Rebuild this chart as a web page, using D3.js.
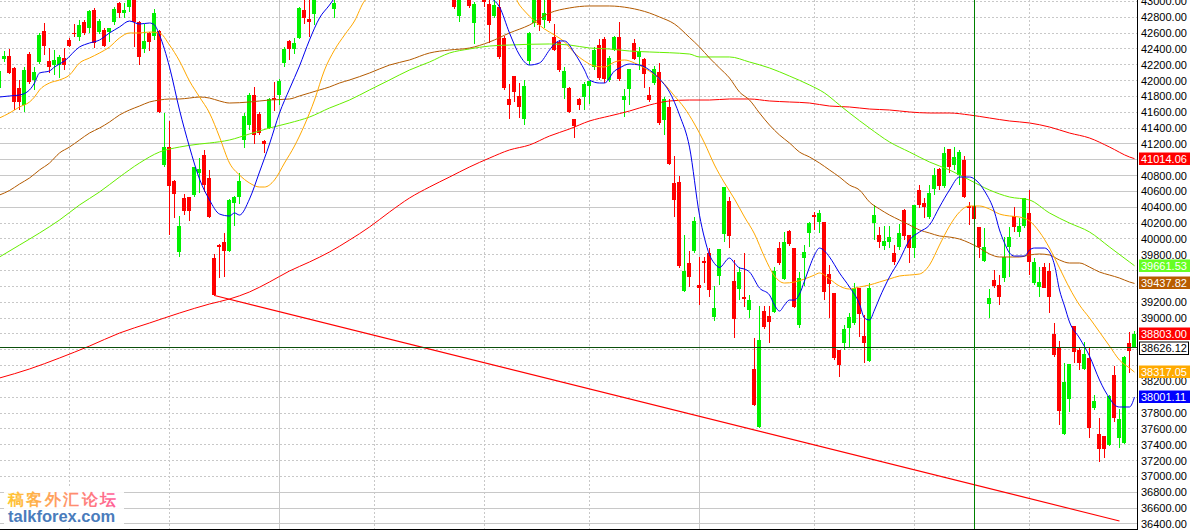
<!DOCTYPE html>
<html><head><meta charset="utf-8">
<script src="https://cdn.jsdelivr.net/npm/d3@7/dist/d3.min.js"></script>
<style>
html,body{margin:0;padding:0;background:#fff;overflow:hidden;}
svg{display:block;}
text{font-family:"Liberation Sans",Arial,sans-serif;}
</style></head>
<body>
<svg id="chart" width="1190" height="531"></svg>
<script>
// ---------------- DATA ----------------
const openP = [41907,42273,42311,42160,41907,41692,42336,42008,42235,42627,42248,42197,42197,42286,42513,42602,42551,42741,42665,42892,42614,42640,42614,42741,42981,42854,42930,43044,42741,42400,42602,42564,42627,40934,41161,40732,39835,40517,40530,40555,40833,41060,40770,39759,39923,39961,39848,40454,40530,41250,41439,41818,41578,41237,41401,41780,41818,42223,42501,42400,42539,42892,42779,42842,43044,43180,43290,42905,43060,43240,43390,43330,43520,43600,43520,43720,43650,43800,43700,43580,43680,43510,43420,43530,43360,43400,43260,43340,43180,43250,43110,43057,42817,43060,43057,42728,43050,43069,42968,42816,42930,42539,41768,42058,41806,41515,42248,42728,43031,42766,43044,42551,42488,41907,41907,41515,41768,41793,41932,42172,42450,42526,42008,42387,42551,41755,41894,42475,42299,42273,41818,41970,42109,41503,41667,40707,40719,39342,39696,39848,39418,39721,39822,39014,39532,40062,40479,39468,39367,39266,39102,38357,37624,39089,39026,39077,39885,39494,40100,39885,38913,39759,40075,40302,40214,40214,39557,39317,38597,38685,38875,38938,39380,38774,38458,40201,40050,39911,39961,39822,39898,40366,40050,39885,40618,40454,40277,40631,40884,40669,41136,40934,40808,40997,40416,40416,40151,39721,39178,39481,39418,39506,39898,40290,40088,40163,40328,39443,39393,39645,39595,38799,38622,37535,37978,38900,38597,38357,38496,37864,37535,37510,37396,38281,37485,37422,38685,38635];
const highP = [42147,42374,42400,42172,42008,42172,42362,42172,42602,42728,42412,42387,42324,42412,42539,42715,42766,42766,42892,42918,42779,42665,42670,42930,42990,42981,43056,43069,42750,42715,42610,42905,42640,41591,41490,40740,40290,40568,40535,40915,41022,41124,40871,39810,39930,40075,40500,40542,40833,41591,41844,41920,41604,41245,41780,41983,42021,42425,42510,42539,42930,43057,43044,43082,43215,43320,43350,43044,43280,43420,43480,43560,43640,43700,43760,43800,43840,43880,43760,43720,43740,43600,43560,43580,43440,43460,43380,43360,43300,43280,43200,43120,43094,43190,43082,42993,43150,43094,43031,43031,43044,42564,41957,42064,41970,42008,42610,43069,43057,43019,43069,42715,42513,42172,41915,41520,41775,41983,41995,42425,42526,42551,42311,42564,42741,41894,42147,42526,42425,42286,41920,42185,42223,41793,41768,41048,40795,40050,39848,40277,39772,39772,39885,39405,39873,40656,40530,39734,39645,39822,39292,38748,39153,39153,39153,39645,39961,40088,40113,39890,39582,39923,40214,40340,40366,40220,39671,39320,38600,38913,39064,39443,39385,39039,39443,40429,40151,40163,40163,39923,40189,40378,40055,40429,40681,40517,40681,40896,40890,41161,41140,41161,41124,41048,40466,40429,40155,40138,39367,39607,39544,40024,40151,40403,40264,40517,40618,39759,39645,39696,39696,38938,38710,38433,38420,38905,38635,38698,38622,38028,37738,37515,38028,38395,37851,38521,38824,38837];
const lowP = [41894,42235,42084,41629,41629,41604,41957,41882,42210,42324,42096,42071,42033,42134,42425,42551,42501,42576,42602,42412,42589,42425,42488,42703,42791,42791,42867,42425,42197,42349,42374,42513,41591,40909,40050,40264,39772,40302,40227,40530,40580,40593,40264,39279,39506,39519,39835,40163,40441,41149,41376,41199,41313,41086,41389,41616,41692,42172,42261,42336,42530,42715,42551,42703,43035,43120,43080,42791,43040,43200,43300,43310,43440,43480,43500,43600,43620,43660,43540,43520,43480,43380,43390,43330,43260,43230,43200,43150,43120,43080,43060,42905,42741,43040,42918,42463,43035,42930,42475,42791,42273,41882,41515,41730,41528,41439,42197,42678,42627,42665,42728,42374,42109,41768,41591,41275,41629,41629,41705,42134,42008,41970,41983,42374,41995,41540,41692,42261,42134,41907,41730,41945,41439,41313,40934,40277,39633,39330,39393,39822,39165,39443,39266,38963,39418,39961,39885,38748,39228,39140,39001,37889,37611,38862,38685,39064,39671,39481,39911,39127,38875,39405,39898,40113,40075,39228,39001,38470,38256,38597,38622,38913,38761,38433,38445,39986,39885,39860,39885,39671,39860,39986,39696,39759,40391,40264,40252,40555,40618,40643,40833,40871,40681,40517,40176,40163,39759,39709,39001,39380,39165,39456,39519,40088,40024,40138,39544,39418,39266,39380,39064,38508,37649,37523,37813,38433,38344,38344,37485,37839,37182,37232,37384,37687,37359,37409,38306,38622];
const closeP = [42122,42311,42096,41730,41730,42134,41983,42109,42576,42437,42172,42261,42299,42197,42437,42589,42703,42602,42880,42475,42753,42437,42665,42905,42854,42892,43031,42741,42299,42501,42488,42854,41604,41161,40669,40568,40163,40353,40353,40909,40884,40681,40277,39292,39898,39848,40492,40530,40732,41553,41818,41313,41338,41199,41768,41755,41995,42400,42400,42475,42918,42791,42741,43044,43180,43290,43110,42981,43240,43390,43330,43520,43600,43520,43720,43650,43800,43700,43580,43680,43510,43420,43530,43360,43400,43260,43340,43180,43250,43110,43150,42930,43057,43150,42943,42968,43120,42993,42703,42955,42299,41907,41692,41856,41667,41932,42602,43044,42703,42854,42753,42387,42134,42122,41604,41427,41692,41957,41995,42387,42033,42021,42286,42551,42021,41806,42147,42273,42374,42084,41755,42147,41465,41768,40947,40492,39658,39595,39519,40227,39380,39696,39355,39127,39873,40656,40037,38988,39582,39241,39228,37902,38723,38887,38951,39595,39696,39961,39936,39140,39506,39835,40201,40277,40328,39330,39431,38496,38407,38862,39014,39380,39052,38685,39380,40302,39961,39974,40024,39709,40075,40037,39885,40429,40429,40403,40580,40808,40669,41086,40909,41035,41098,40530,40391,40252,39898,39898,39254,39405,39266,39772,40024,40151,40163,40517,39709,39709,39456,39380,39266,38534,37826,38192,38420,38571,38433,38546,37611,37952,37346,37346,38016,37738,37725,38508,38584,38803];

// moving-average lines, read at sampled bars
const blueIdx = [0,2,4,6,7,8,10,11,13,16,18,20,22,24,26,28,30,31,32,34,36,38,40,42,44,46,47,48,50,52,54,56,58,60,62,64,66,67,70,75,80,85,90,94,98,100,102,104,106,108,110,111,112,113,115,117,118,120,121,123,124,126,128,130,132,134,136,138,140,141,142,143,144,146,147,148,149,150,152,154,155,156,157,158,159,160,161,162,163,164,165,166,168,170,172,173,174,175,176,178,180,182,184,186,188,190,192,194,195,197,199,200,201,202,203,205,206,207,209,210,211,212,213,214,216,218,220,221,222,223,224,226,227];
const blueVal = [41793,41806,41818,41882,41970,42096,42122,42172,42248,42425,42475,42513,42602,42678,42753,42715,42728,42703,42576,42172,41629,41161,40757,40492,40315,40290,40328,40302,40504,40846,41199,41591,41894,42185,42513,42791,42955,43044,43300,43560,43620,43450,43250,43100,43044,42930,42602,42324,42197,42223,42387,42463,42501,42501,42349,42134,42008,41970,41970,42122,42160,42210,42197,42134,42021,41856,41566,41160,40300,40010,39800,39690,39640,39759,39696,39633,39620,39582,39380,39292,39165,39089,39165,39228,39228,39304,39468,39645,39797,39885,39848,39772,39570,39393,39178,39001,38976,39102,39254,39519,39734,39986,40088,40176,40403,40618,40782,40782,40757,40606,40340,40113,39949,39822,39784,39784,39860,39885,39885,39835,39671,39355,39153,38951,38748,38521,38218,38091,37990,37902,37877,37877,38001.11];
const yellowIdx = [0,2,4,6,7,8,10,12,14,16,18,20,22,24,26,28,30,32,34,36,38,40,42,44,46,48,50,52,53,55,57,59,61,63,65,67,69,71,73,74,80,88,96,103,104,105,107,109,111,113,115,117,119,121,123,125,127,129,131,133,135,137,139,141,143,145,147,149,151,153,155,157,159,161,163,164,166,168,170,172,174,176,178,180,182,184,186,188,190,192,194,196,198,200,202,204,206,208,210,212,214,216,218,220,222,224,226,227];
const yellowVal = [41528,41591,41667,41730,41793,41882,41970,42008,42071,42223,42286,42349,42425,42539,42602,42602,42614,42602,42450,42248,41995,41793,41591,41288,40959,40808,40707,40656,40656,40745,40959,41174,41439,41755,42134,42387,42576,42753,43006,43056,43350,43300,43150,43056,42955,42880,42753,42652,42576,42488,42349,42248,42185,42172,42235,42261,42223,42160,42071,41957,41806,41654,41452,41212,40934,40707,40504,40277,40063,39772,39532,39443,39456,39494,39544,39570,39494,39405,39367,39393,39418,39456,39494,39532,39544,39557,39671,39923,40163,40340,40416,40416,40378,40315,40290,40277,40227,40088,39885,39633,39380,39165,39001,38824,38647,38470,38369,38317.05];
const brownIdx = [0,2,4,6,8,10,12,14,16,18,20,22,24,26,28,30,32,34,36,38,40,42,44,46,50,54,58,60,62,64,66,68,70,74,78,82,86,90,94,98,102,106,110,114,118,122,126,130,132,135,138,140,142,144,146,148,150,152,154,156,158,160,162,164,166,168,170,172,174,176,178,180,182,184,186,188,190,192,194,196,198,200,204,206,208,210,212,214,216,218,220,222,224,226,227];
const brownVal = [40555,40612,40694,40770,40871,40959,41086,41161,41250,41338,41401,41477,41566,41629,41679,41730,41755,41768,41768,41780,41793,41780,41743,41717,41730,41755,41768,41806,41844,41882,41920,41970,42008,42096,42197,42261,42349,42387,42412,42488,42602,42703,42854,42918,42943,42943,42918,42854,42804,42715,42545,42425,42286,42160,42033,41856,41755,41591,41439,41313,41212,41098,41035,40959,40871,40782,40681,40618,40467,40378,40302,40239,40176,40113,40075,40037,40024,39999,39949,39885,39810,39772,39772,39797,39810,39797,39734,39696,39696,39645,39582,39544,39506,39456,39437.82];
const greenIdx = [0,4,8,12,16,20,24,28,32,36,40,42,46,50,54,58,62,66,70,74,78,82,86,90,94,98,102,110,114,118,122,126,130,138,140,146,150,154,158,162,165,168,170,174,178,182,186,190,194,198,202,206,210,214,218,222,226,227];
const greenVal = [39772,39923,40075,40239,40429,40593,40782,40959,41098,41161,41199,41212,41250,41326,41401,41465,41540,41654,41755,41882,42008,42134,42235,42349,42400,42437,42450,42463,42450,42412,42400,42374,42362,42336,42299,42299,42235,42160,42058,41945,41844,41692,41591,41401,41225,41098,40972,40871,40745,40618,40530,40492,40328,40201,40088,39898,39709,39661.53];
const redIdx = [0,6,12,18,24,30,36,42,46,50,54,58,62,66,70,74,78,82,86,90,94,98,102,106,110,114,118,122,126,130,134,138,142,146,150,154,158,162,166,170,174,178,182,186,190,194,198,202,206,210,214,218,222,226,227];
const redVal = [38243,38357,38496,38647,38811,38938,39064,39178,39241,39330,39456,39595,39709,39835,39986,40151,40340,40517,40656,40782,40909,41022,41124,41187,41300,41389,41490,41553,41616,41692,41743,41755,41755,41768,41768,41743,41730,41717,41679,41667,41641,41629,41604,41591,41591,41566,41528,41490,41465,41414,41338,41275,41161,41035,41014.06];
// drawn trend line anchors (bar index, price)
const trendIdx = [43, 224];
const trendVal = [39285, 36437];
// price axis
const tickVals = d3.range(36400, 43001, 200);
const solidGrid = [36400, 36600, 36800, 40400, 40600, 40800, 41000, 41200];
const timeGridIdx = [14, 34, 56, 75, 97, 118, 140, 163, 183, 206];
const solidTimeGrid = [56, 140];
const cursorIdx = 195;
const cursorPrice = 38626.12;
const tags = [
  {v: 41014.06, bg: "#ff0000", fg: "#ffffff"},
  {v: 39661.53, bg: "#66ff22", fg: "#ffffff"},
  {v: 39437.82, bg: "#b85c00", fg: "#ffffff"},
  {v: 38803.00, bg: "#ff0000", fg: "#ffffff"},
  {v: 38626.12, bg: "#ffffff", fg: "#000000", border: "#000000"},
  {v: 38317.05, bg: "#ffaa00", fg: "#ffffff"},
  {v: 38001.11, bg: "#0000ff", fg: "#ffffff"}
];
const watermarkCn = "稿客外汇论坛";
const watermarkEn = "talkforex.com";

// ---------------- CHART ----------------
const W = 1190, H = 531, plotR = 1137, plotB = 529;
const svg = d3.select("#chart");
const x = d3.scaleLinear().domain([0, 227]).range([-0.5, 1134.5]);
const y = d3.scaleLinear().domain([36400, 43000]).range([523.9, 1.47]);
const py = v => Math.floor(y(v)) + 0.5;

svg.append("rect").attr("width", W).attr("height", H).attr("fill", "#fff");
const defs = svg.append("defs");
defs.append("clipPath").attr("id", "plot").append("rect")
  .attr("x", 0).attr("y", 0).attr("width", plotR).attr("height", plotB);

const g = svg.append("g").attr("clip-path", "url(#plot)");

// horizontal grid
g.selectAll("line.hg").data(tickVals).join("line")
  .attr("x1", 0).attr("x2", plotR)
  .attr("y1", d => py(d)).attr("y2", d => py(d))
  .attr("stroke", "#c8c8c8").attr("stroke-width", 1)
  .attr("stroke-dasharray", d => solidGrid.includes(d) ? null : "2,2");
// vertical grid
g.selectAll("line.vg").data(timeGridIdx).join("line")
  .attr("x1", d => x(d)).attr("x2", d => x(d))
  .attr("y1", 0).attr("y2", plotB)
  .attr("stroke", "#c8c8c8").attr("stroke-width", 1)
  .attr("stroke-dasharray", d => solidTimeGrid.includes(d) ? null : "2,2");

// candles
const bars = d3.range(openP.length).map(i => ({i, o: openP[i], h: highP[i], l: lowP[i], c: closeP[i]}));
const col = d => d.c >= d.o ? "#00f000" : "#ff0000";
g.selectAll("rect.wick").data(bars).join("rect")
  .attr("x", d => x(d.i) - 0.5).attr("width", 1)
  .attr("y", d => Math.round(y(d.h)))
  .attr("height", d => Math.max(1, Math.round(y(d.l)) - Math.round(y(d.h))))
  .attr("fill", col).attr("shape-rendering", "crispEdges");
g.selectAll("rect.body").data(bars).join("rect")
  .attr("x", d => x(d.i) - 2.5).attr("width", 4)
  .attr("y", d => Math.round(y(Math.max(d.o, d.c))))
  .attr("height", d => Math.max(1, Math.round(y(Math.min(d.o, d.c))) - Math.round(y(Math.max(d.o, d.c)))))
  .attr("fill", col).attr("shape-rendering", "crispEdges");

// lines
const mk = (idx, val) => idx.map((k, j) => [k, val[j]]);
const line = d3.line().x(d => x(d[0])).y(d => y(d[1])).curve(d3.curveMonotoneX);
const series = [
  {d: mk(redIdx, redVal), c: "#ff0000"},
  {d: mk(greenIdx, greenVal), c: "#66ee00"},
  {d: mk(brownIdx, brownVal), c: "#b35a00"},
  {d: mk(yellowIdx, yellowVal), c: "#ffa800"},
  {d: mk(blueIdx, blueVal), c: "#0000ee"}
];
series.forEach(s => g.append("path").attr("d", line(s.d)).attr("fill", "none")
  .attr("stroke", s.c).attr("stroke-width", 1));
// trend line
g.append("path").attr("d", d3.line().x(d => x(d[0])).y(d => y(d[1]))(mk(trendIdx, trendVal)))
  .attr("stroke", "#ff0000").attr("stroke-width", 1.1).attr("fill", "none");

// crosshair
g.append("line").attr("x1", 0).attr("x2", plotR).attr("y1", py(cursorPrice)).attr("y2", py(cursorPrice))
  .attr("stroke", "#0b4f0b").attr("stroke-width", 1);
g.append("line").attr("x1", x(cursorIdx)).attr("x2", x(cursorIdx)).attr("y1", 0).attr("y2", plotB)
  .attr("stroke", "#008000").attr("stroke-width", 1);

// watermark
const wm = svg.append("g");
wm.append("rect").attr("x", 4).attr("y", 486).attr("width", 120).attr("height", 41).attr("fill", "#fff").attr("opacity", 0.92);
const grad = defs.append("linearGradient").attr("id", "wmg").attr("x1", "0").attr("x2", "1");
grad.append("stop").attr("offset", "0").attr("stop-color", "#ffc633");
grad.append("stop").attr("offset", "0.5").attr("stop-color", "#ff9966");
grad.append("stop").attr("offset", "1").attr("stop-color", "#ff5c99");
wm.append("text").attr("x", 8).attr("y", 505).attr("font-size", 16).attr("font-weight", "bold")
  .attr("font-family", "Noto Sans CJK SC").attr("fill", "url(#wmg)").attr("letter-spacing", 2.4).text(watermarkCn);
wm.append("text").attr("x", 8).attr("y", 522).attr("font-size", 16.5).attr("font-weight", "bold")
  .attr("fill", "#4a7cbc").text(watermarkEn);

// axes frame
svg.append("line").attr("x1", plotR + 0.5).attr("x2", plotR + 0.5).attr("y1", 0).attr("y2", plotB + 1)
  .attr("stroke", "#000").attr("stroke-width", 1);
svg.append("line").attr("x1", 0).attr("x2", plotR + 1).attr("y1", plotB + 0.5).attr("y2", plotB + 0.5)
  .attr("stroke", "#000").attr("stroke-width", 1);

// price labels (those hidden under a price tag are not drawn)
const visibleTicks = tickVals.filter(t => tags.every(tg => Math.abs(y(t) - y(tg.v)) > 9));
svg.selectAll("text.tick").data(visibleTicks).join("text")
  .attr("x", 1141).attr("y", d => y(d) + 4)
  .attr("font-size", 11).attr("fill", "#000").text(d => d.toFixed(2));

// price tags
const tg = svg.selectAll("g.tag").data(tags).join("g");
tg.append("rect").attr("x", d => d.border ? 1139.5 : 1139).attr("y", d => Math.round(y(d.v)) - 6.5 + (d.border ? 0.5 : 0))
  .attr("width", d => d.border ? 49 : 51).attr("height", 12.5)
  .attr("fill", d => d.bg).attr("stroke", d => d.border || "none");
tg.append("text").attr("x", 1141).attr("y", d => y(d.v) + 4)
  .attr("font-size", 11).attr("fill", d => d.fg).text(d => d.v.toFixed(2));
</script>
</body></html>
